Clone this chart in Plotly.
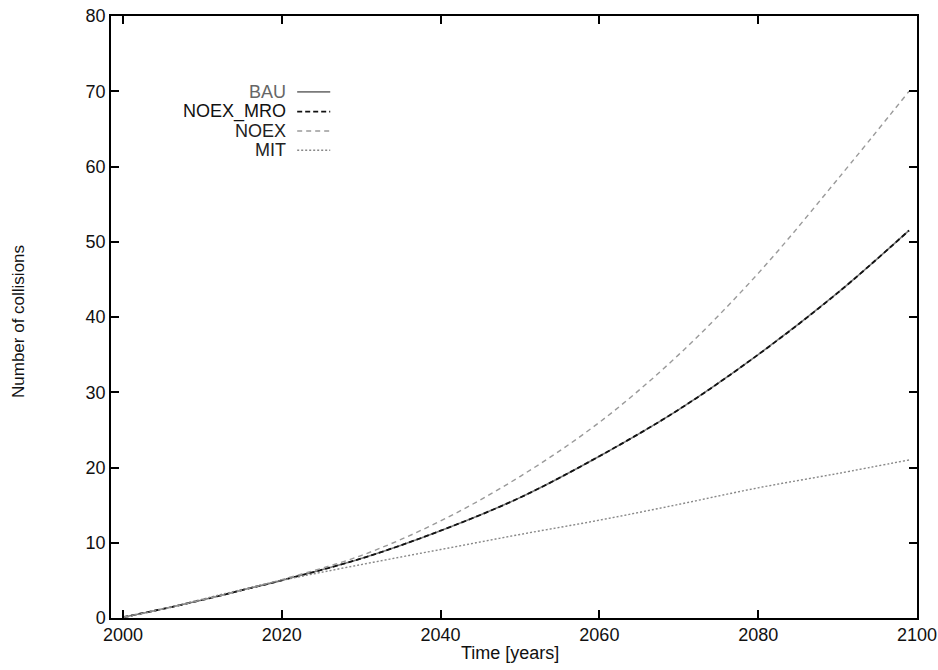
import plotly.graph_objects as go

years = [2000, 2005, 2010, 2015, 2020, 2030, 2040, 2050, 2060, 2070, 2080, 2090, 2099]
noex = [0.1, 1.2, 2.4, 3.7, 5.1, 8.3, 12.9, 18.8, 26.0, 35.0, 45.8, 58.3, 70.0]
bau = [0.1, 1.2, 2.4, 3.7, 5.0, 7.9, 11.6, 16.0, 21.5, 27.7, 35.0, 43.2, 51.5]
noex_mro = [0.1, 1.2, 2.4, 3.7, 5.0, 7.9, 11.6, 16.0, 21.5, 27.7, 35.0, 43.2, 51.5]
mit = [0.0, 1.2, 2.5, 3.8, 5.0, 7.1, 9.1, 11.1, 13.0, 15.1, 17.3, 19.2, 21.0]

series_names = ["BAU", "NOEX_MRO", "NOEX", "MIT"]
series_vals = [bau, noex_mro, noex, mit]
colors = ["#7a7a7a", "#111111", "#9a9a9a", "#888888"]
dashes = ["solid", "5px,3px", "5px,4px", "2px,2px"]
widths = [1.6, 1.8, 1.4, 1.4]
label_colors = ["#666666", "#111111", "#222222", "#222222"]

xticks = [2000, 2020, 2040, 2060, 2080, 2100]
yticks = [0, 10, 20, 30, 40, 50, 60, 70, 80]

FONT = "Liberation Sans, Arial, sans-serif"

fig = go.Figure()
for name, vals, c, d, w in zip(series_names, series_vals, colors, dashes, widths):
    fig.add_trace(go.Scatter(x=years, y=vals, mode="lines", name=name,
                             line=dict(color=c, dash=d, width=w, shape="spline"),
                             showlegend=False))

# legend drawn gnuplot-style: text right-aligned, sample line on the right
leg_y = [0.874, 0.841, 0.809, 0.777]
for name, c, d, w, lc, yy in zip(series_names, colors, dashes, widths, label_colors, leg_y):
    fig.add_annotation(x=0.220, y=yy, xref="paper", yref="paper", text=name,
                       showarrow=False, xanchor="right", yanchor="middle",
                       font=dict(size=18, color=lc, family=FONT))
    fig.add_shape(type="line", xref="paper", yref="paper", x0=0.231, x1=0.272, y0=yy, y1=yy,
                  line=dict(color=c, dash=d, width=w))

# axis titles
fig.add_annotation(x=(510 - 111) / 806, y=-(653 - 618) / 602, xref="paper", yref="paper",
                   text="Time [years]", showarrow=False, xanchor="center", yanchor="middle",
                   font=dict(size=18, color="#111111", family=FONT))
fig.add_annotation(x=-(111 - 18) / 806, y=(618 - 322) / 602, xref="paper", yref="paper",
                   text="Number of collisions", showarrow=False, textangle=-90,
                   xanchor="center", yanchor="middle",
                   font=dict(size=17, color="#111111", family=FONT))

axis_common = dict(showline=True, linecolor="black", linewidth=1.5, mirror="ticks",
                   ticks="inside", ticklen=8, tickwidth=1.5, tickcolor="black",
                   showgrid=False, zeroline=False, automargin=False,
                   tickfont=dict(size=18, color="#111111", family=FONT))

fig.update_layout(
    width=938, height=670,
    margin=dict(l=111, r=21, t=16, b=52),
    paper_bgcolor="white", plot_bgcolor="white",
    font=dict(family=FONT, size=18, color="#111111"),
    xaxis=dict(range=[1998.5, 2100], tickvals=xticks, ticktext=[str(t) for t in xticks],
               **axis_common),
    yaxis=dict(range=[0, 80], tickvals=yticks, ticktext=[str(t) for t in yticks],
               **axis_common),
)

# remove the default 8px page margin so the 938x670 figure fills the window exactly
fig.write_html("out.html", config={"displayModeBar": False},
               post_script="document.body.style.margin='0';document.body.style.overflow='hidden';")
